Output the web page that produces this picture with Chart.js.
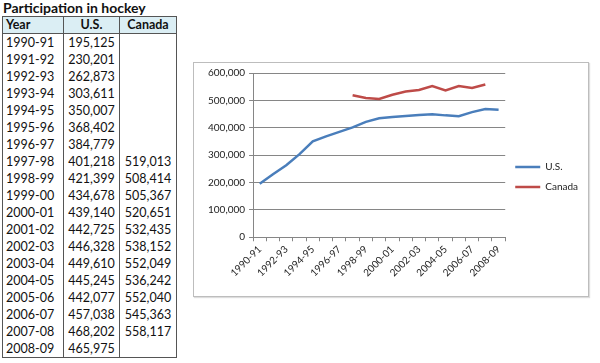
<!DOCTYPE html>
<html>
<head>
<meta charset="utf-8">
<script src="https://cdn.jsdelivr.net/npm/chart.js@4/dist/chart.umd.min.js"></script>
<style>
  html, body { margin: 0; padding: 0; background: #fff; }
  body { width: 600px; height: 363px; position: relative; overflow: hidden; font-family: Lato, "Open Sans", sans-serif; color: #111; }
  #title { position: absolute; left: 3px; top: 0px; font-weight: bold; font-size: 14px; line-height: 16px; }
  table { position: absolute; left: 2px; top: 16px; border-collapse: collapse; font-size: 12.5px; border: 1.5px solid #555; }
  th { background: #dbeef4; font-weight: bold; height: 16px; padding: 0; border: 1.5px solid #555; line-height: 16px; }
  td { height: 17px; padding: 0; line-height: 17px; border-left: 1.5px solid #555; border-right: 1.5px solid #555; }
  .c0 { width: 57px; text-align: left; padding-left: 3px; }
  .c1 { width: 55px; text-align: center; }
  .c2 { width: 56px; text-align: center; }
  #chartBox { position: absolute; left: 193px; top: 62px; width: 394px; height: 233px; border: 1px solid #bdbdbd; box-shadow: 1px 1px 1px #ddd; }
  canvas { display: block; }
</style>
</head>
<body>
<div id="title">Participation in hockey</div>
<table id="tbl"></table>
<div id="chartBox"><canvas id="c" width="394" height="233"></canvas></div>
<script>
const years = ["1990-91","1991-92","1992-93","1993-94","1994-95","1995-96","1996-97","1997-98","1998-99","1999-00","2000-01","2001-02","2002-03","2003-04","2004-05","2005-06","2006-07","2007-08","2008-09"];
const usValues = [195125,230201,262873,303611,350007,368402,384779,401218,421399,434678,439140,442725,446328,449610,445245,442077,457038,468202,465975];
const canadaValues = [null,null,null,null,null,null,null,519013,508414,505367,520651,532435,538152,552049,536242,552040,545363,558117,null];
const yTicks = [0,100000,200000,300000,400000,500000,600000];
const headers = ["Year","U.S.","Canada"];

const fmt = v => v === null ? "" : v.toLocaleString("en-US");

// table
const tbl = document.getElementById("tbl");
let h = "<tr>" + headers.map((t,i) => `<th class="c${i}">${t}</th>`).join("") + "</tr>";
years.forEach((y, i) => {
  h += `<tr><td class="c0">${y}</td><td class="c1">${fmt(usValues[i])}</td><td class="c2">${fmt(canadaValues[i])}</td></tr>`;
});
tbl.innerHTML = h;

const font = { family: "Lato, 'Open Sans', sans-serif", size: 10 };
new Chart(document.getElementById("c"), {
  type: "line",
  data: {
    labels: years,
    datasets: [
      { label: "U.S.", data: usValues, borderColor: "#4a7ebb", backgroundColor: "#4a7ebb", borderWidth: 2.5, pointRadius: 0, tension: 0, spanGaps: false },
      { label: "Canada", data: canadaValues, borderColor: "#be4b48", backgroundColor: "#be4b48", borderWidth: 2.5, pointRadius: 0, tension: 0, spanGaps: false }
    ]
  },
  options: {
    responsive: false,
    animation: false,
    devicePixelRatio: 1,
    layout: { padding: { left: 10, right: 0, top: 10, bottom: 15 } },
    plugins: {
      tooltip: { enabled: false },
      legend: {
        position: "right",
        labels: { usePointStyle: true, pointStyle: "line", pointStyleWidth: 25, font: font, color: "#222", padding: 10 }
      }
    },
    scales: {
      x: {
        offset: true,
        grid: { offset: true, drawOnChartArea: false, drawTicks: true, tickLength: 4, color: "#868686" },
        border: { color: "#868686", width: 1 },
        ticks: {
          autoSkip: false, maxRotation: 45, minRotation: 45, font: font, color: "#222", padding: 2,
          callback: function(v, i) { return i % 2 === 0 ? years[i] : ""; }
        }
      },
      y: {
        min: yTicks[0], max: yTicks[yTicks.length - 1],
        afterBuildTicks: axis => { axis.ticks = yTicks.map(v => ({ value: v })); },
        grid: { color: "#868686", tickLength: 4 },
        border: { color: "#868686", width: 1 },
        ticks: { font: font, color: "#222", padding: 4, callback: v => v.toLocaleString("en-US") }
      }
    }
  }
});
</script>
</body>
</html>
